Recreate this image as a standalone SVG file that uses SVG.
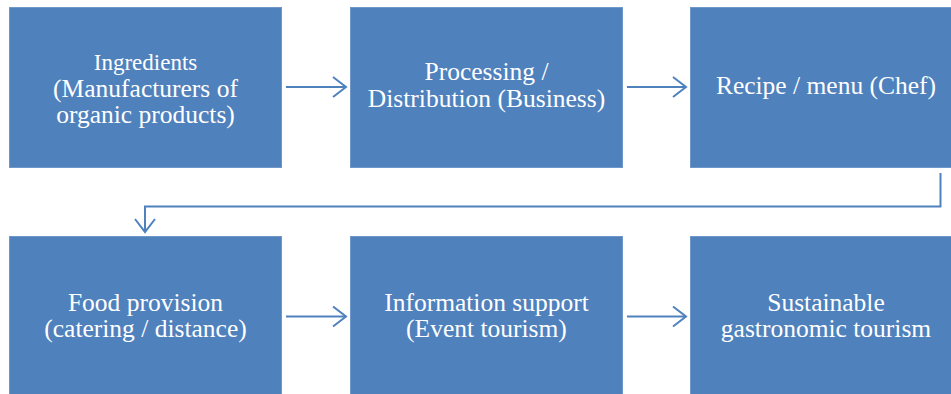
<svg xmlns="http://www.w3.org/2000/svg" width="951" height="394" viewBox="0 0 951 394">
<style>
.box{fill:#4F81BD;stroke:#6F97C9;stroke-width:1}
.t{font-family:"Liberation Serif","Times New Roman",serif;font-size:25.5px;fill:#FFFFFF;text-anchor:middle}
.s{font-size:23px}
.c{fill:none;stroke:#4F81BD;stroke-width:2}
</style>
<defs>
<marker id="ah" viewBox="0 0 16 22" refX="14" refY="11" markerWidth="16" markerHeight="22" markerUnits="userSpaceOnUse" orient="auto">
<path d="M1,1 L14,11 L1,21" fill="none" stroke="#4F81BD" stroke-width="2"/>
</marker>
</defs>
<rect width="951" height="394" fill="#FFFFFF"/>
<g id="n1"><rect class="box" x="9.5" y="7.5" width="272" height="160"/>
<text class="t s" x="145.5" y="69.5">Ingredients</text>
<text class="t" x="145.5" y="96.5">(Manufacturers of</text>
<text class="t" x="145.5" y="123">organic products)</text></g>
<g id="n2"><rect class="box" x="350.5" y="7.5" width="272" height="160"/>
<text class="t" x="486.5" y="80">Processing /</text>
<text class="t" x="486.5" y="106.5">Distribution (Business)</text></g>
<g id="n3"><rect class="box" x="690.5" y="7.5" width="272" height="160"/>
<text class="t" x="826" y="94">Recipe / menu (Chef)</text></g>
<g id="n4"><rect class="box" x="9.5" y="236.5" width="272" height="160"/>
<text class="t" x="145.5" y="310.5">Food provision</text>
<text class="t" x="145.5" y="337">(catering / distance)</text></g>
<g id="n5"><rect class="box" x="350.5" y="236.5" width="272" height="160"/>
<text class="t" x="486.5" y="310.5">Information support</text>
<text class="t" x="486.5" y="337">(Event tourism)</text></g>
<g id="n6"><rect class="box" x="690.5" y="236.5" width="272" height="160"/>
<text class="t" x="826" y="310.5">Sustainable</text>
<text class="t" x="826" y="337">gastronomic tourism</text></g>
<g id="connectors">
<path class="c" d="M286,87 L346,87" marker-end="url(#ah)"/>
<path class="c" d="M627,87 L686,87" marker-end="url(#ah)"/>
<path class="c" d="M940.5,173 L940.5,206.5 L145,206.5 L145,232" marker-end="url(#ah)"/>
<path class="c" d="M286,316.5 L346,316.5" marker-end="url(#ah)"/>
<path class="c" d="M627,316.5 L686,316.5" marker-end="url(#ah)"/>
</g>
</svg>
